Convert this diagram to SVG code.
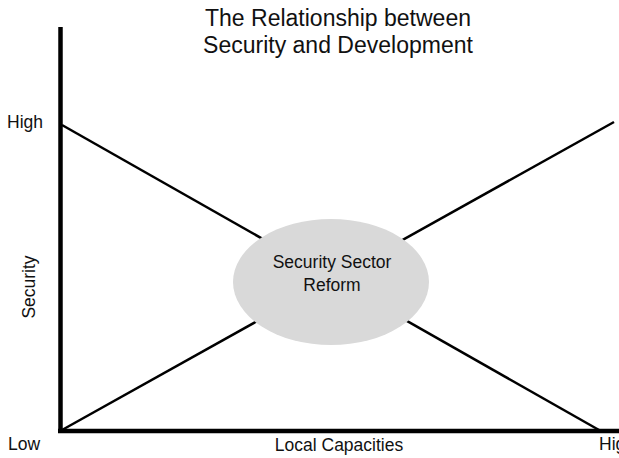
<svg xmlns="http://www.w3.org/2000/svg" width="619" height="458" viewBox="0 0 619 458">
<style>
text{font-family:"Liberation Sans",Arial,sans-serif;fill:#111}
.t{font-size:23px;text-anchor:middle}
.l{font-size:17.5px}
.axis{stroke:#000;stroke-width:4.5;fill:none}
.ln{stroke:#000;stroke-width:2.5;fill:none}
</style>
<rect width="619" height="458" fill="#fff"/>
<g id="title">
<text class="t" x="338" y="26">The Relationship between</text>
<text class="t" x="338" y="53">Security and Development</text>
</g>
<g id="connectors">
<line class="ln" x1="62" y1="125" x2="599" y2="430"/>
<line class="ln" x1="62" y1="430" x2="614" y2="122"/>
</g>
<g id="axes">
<line class="axis" x1="60.5" y1="27" x2="60.5" y2="433"/>
<line class="axis" x1="58" y1="431" x2="619" y2="431"/>
</g>
<g id="ssr">
<ellipse cx="331" cy="282" rx="98" ry="63" fill="#d9d9d9"/>
<text class="l" x="332" y="268" text-anchor="middle">Security Sector</text>
<text class="l" x="332" y="291" text-anchor="middle">Reform</text>
</g>
<g id="labels">
<text class="l" x="7" y="128">High</text>
<text class="l" x="8" y="450">Low</text>
<text class="l" x="599" y="450">High</text>
<text class="l" x="339" y="451" text-anchor="middle">Local Capacities</text>
<text class="l" transform="translate(35,287) rotate(-90)" text-anchor="middle">Security</text>
</g>
</svg>
